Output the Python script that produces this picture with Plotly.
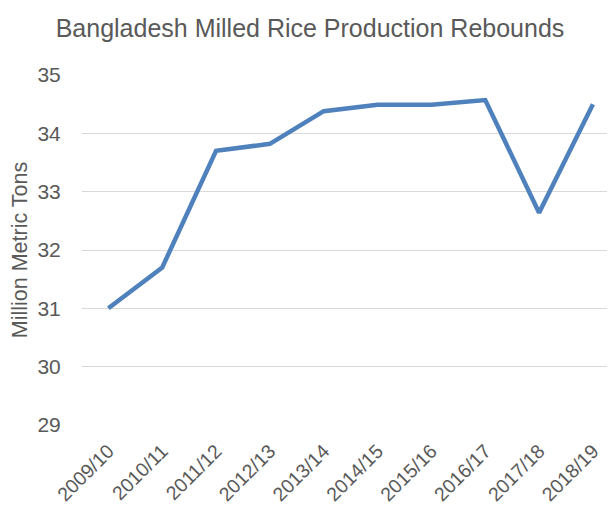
import plotly.graph_objects as go

years = ["2009/10", "2010/11", "2011/12", "2012/13", "2013/14",
         "2014/15", "2015/16", "2016/17", "2017/18", "2018/19"]
production = [31.0, 31.7, 33.7, 33.82, 34.38, 34.49, 34.49, 34.57, 32.64, 34.5]
y_ticks = [29, 30, 31, 32, 33, 34, 35]

fig = go.Figure()
fig.add_trace(go.Scatter(
    x=years, y=production, mode="lines",
    line=dict(color="#4F81BD", width=4.5),
    hoverinfo="x+y",
))

font = "Liberation Sans, Arial, sans-serif"
# the page body adds an 8px offset, so the figure is 8px smaller on each side
fig.update_layout(
    width=607, height=498,
    margin=dict(l=74, r=0, t=67, b=81, autoexpand=False),
    paper_bgcolor="white", plot_bgcolor="white",
    showlegend=False,
    title=dict(text="Bangladesh Milled Rice Production Rebounds",
               x=(310 - 8) / 607, xanchor="center", y=1 - (28 - 8) / 498, yanchor="middle",
               font=dict(family=font, size=25, color="#595959")),
    xaxis=dict(
        type="category", range=[-0.49, 9.41], automargin=False,
        showgrid=False, showline=False, zeroline=False,
        tickangle=-45, ticks="outside", ticklen=6, tickcolor="rgba(0,0,0,0)",
        tickfont=dict(family=font, size=19.5, color="#595959"),
    ),
    yaxis=dict(
        range=[29, 35], tickvals=y_ticks, automargin=False,
        showgrid=True, gridcolor="#D9D9D9", gridwidth=1,
        zeroline=False, showline=False,
        ticks="outside", ticklen=16, tickcolor="rgba(0,0,0,0)",
        tickfont=dict(family=font, size=21, color="#595959"),
        title=dict(text="Million Metric Tons", standoff=12,
                   font=dict(family=font, size=21.5, color="#595959")),
    ),
)

fig.write_html("out.html")
